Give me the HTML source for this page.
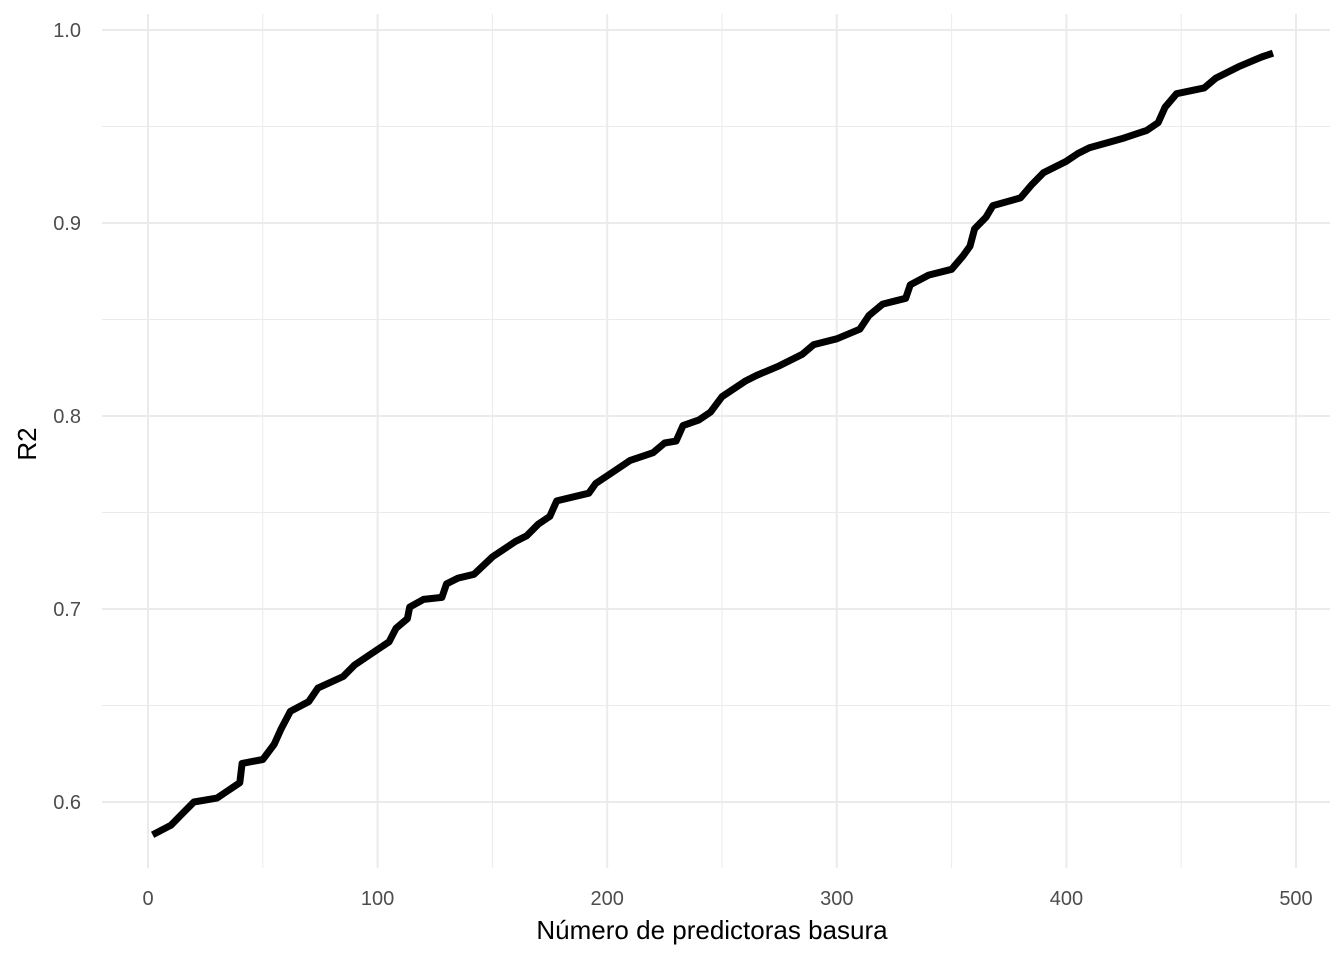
<!DOCTYPE html>
<html><head><meta charset="utf-8"><style>
html,body{margin:0;padding:0;background:#fff;}
svg{display:block;font-family:"Liberation Sans",Arial,sans-serif;}
</style></head><body>
<svg id="chart" width="1344" height="960">
<g id="grid"></g>
<g id="axes"></g>
<g id="series"></g>
<text x="712" y="939" text-anchor="middle" font-size="26" fill="#000">Número de predictoras basura</text>
<text transform="translate(36,444) rotate(-90)" text-anchor="middle" font-size="26" fill="#000">R2</text>
</svg>
<script>
const xVals=[2,10,15,20,30,35,40,41,50,55,58,62,70,74,85,90,100,105,108,113,114,120,128,130,135,142,150,160,165,170,175,178,192,195,205,210,220,225,230,233,240,245,250,260,265,275,285,290,300,310,314,320,330,332,340,350,355,358,360,365,368,380,385,390,400,405,410,425,435,440,443,448,460,465,475,485,490];
const yVals=[0.583,0.588,0.594,0.600,0.602,0.606,0.610,0.620,0.622,0.630,0.638,0.647,0.652,0.659,0.665,0.671,0.679,0.683,0.690,0.695,0.701,0.705,0.706,0.713,0.716,0.718,0.727,0.735,0.738,0.744,0.748,0.756,0.760,0.765,0.773,0.777,0.781,0.786,0.787,0.795,0.798,0.802,0.810,0.818,0.821,0.826,0.832,0.837,0.840,0.845,0.852,0.858,0.861,0.868,0.873,0.876,0.883,0.888,0.897,0.903,0.909,0.913,0.920,0.926,0.932,0.936,0.939,0.944,0.948,0.952,0.960,0.967,0.970,0.975,0.981,0.986,0.988];
const xTicks=[0,100,200,300,400,500];
const yTicks=[0.6,0.7,0.8,0.9,1.0];
const xMinor=[50,150,250,350,450];
const yMinor=[0.65,0.75,0.85,0.95];
const X=v=>148+v*2.296;
const Y=v=>30+(1-v)*1930;
const NS='http://www.w3.org/2000/svg';
function mk(t,a,p){const e=document.createElementNS(NS,t);for(const k in a)e.setAttribute(k,a[k]);p.appendChild(e);return e;}
const grid=document.getElementById('grid'),axes=document.getElementById('axes'),series=document.getElementById('series');
const L=102,R=1330,T=14,B=868;
xMinor.forEach(v=>{const e=mk('line',{x1:X(v),x2:X(v),y1:T,y2:B,stroke:'#ebebeb','stroke-width':1},grid);

});
yMinor.forEach(v=>{const e=mk('line',{x1:L,x2:R,y1:Y(v),y2:Y(v),stroke:'#ebebeb','stroke-width':1},grid);

});
xTicks.forEach(v=>{const e=mk('line',{x1:X(v),x2:X(v),y1:T,y2:B,stroke:'#ebebeb','stroke-width':2},grid);


const t=mk('text',{x:X(v),y:905,'text-anchor':'middle','font-size':20,fill:'#4d4d4d'},axes);t.textContent=v;

});
yTicks.forEach(v=>{const e=mk('line',{x1:L,x2:R,y1:Y(v),y2:Y(v),stroke:'#ebebeb','stroke-width':2},grid);


const t=mk('text',{x:81,y:Y(v)+7,'text-anchor':'end','font-size':20,fill:'#4d4d4d'},axes);t.textContent=v.toFixed(1);

});
const pts=xVals.map((x,i)=>X(x).toFixed(1)+','+Y(yVals[i]).toFixed(1)).join(' ');
const pl=mk('polyline',{points:pts,fill:'none',stroke:'#000','stroke-width':7,'stroke-linejoin':'round'},series);


</script>
</body></html>
